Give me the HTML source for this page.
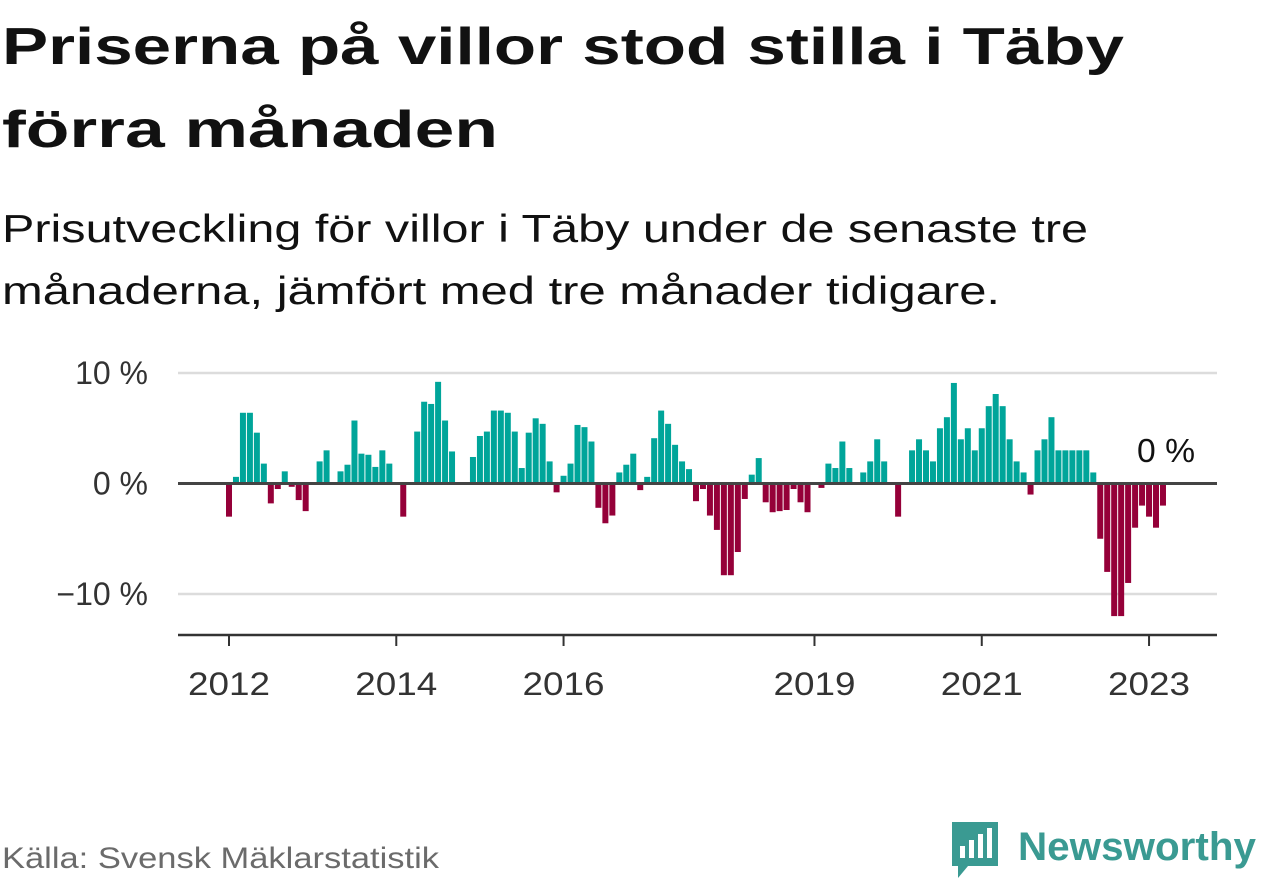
<!DOCTYPE html>
<html><head><meta charset="utf-8"><style>
html,body{margin:0;padding:0;background:#fff;width:1262px;height:879px;overflow:hidden}
svg{display:block;font-family:"Liberation Sans",sans-serif}
</style></head><body>
<svg id="chart" width="1262" height="879" viewBox="0 0 1262 879">
<text x="2" y="64" font-size="52" font-weight="bold" fill="#111" textLength="1122" lengthAdjust="spacingAndGlyphs">Priserna på villor stod stilla i Täby</text>
<text x="2" y="147" font-size="52" font-weight="bold" fill="#111" textLength="496" lengthAdjust="spacingAndGlyphs">förra månaden</text>
<text x="2" y="242" font-size="39" fill="#111" textLength="1086" lengthAdjust="spacingAndGlyphs">Prisutveckling för villor i Täby under de senaste tre</text>
<text x="2" y="304" font-size="39" fill="#111" textLength="998" lengthAdjust="spacingAndGlyphs">månaderna, jämfört med tre månader tidigare.</text>
<g id="grid"></g>
<g id="bars"></g>
<g id="axes"></g>
<text x="1137" y="462" font-size="33" fill="#111" textLength="58" lengthAdjust="spacingAndGlyphs">0 %</text>
<text x="2" y="868" font-size="30" fill="#6b6b6b" textLength="437" lengthAdjust="spacingAndGlyphs">Källa: Svensk Mäklarstatistik</text>
<g>
<path d="M952 822 h46 v44 h-30 l-10 12 v-12 h-6 z" fill="#3a9a92"/>
<rect x="960" y="846" width="5" height="12" fill="#fff"/><rect x="969" y="840" width="5" height="18" fill="#fff"/><rect x="978" y="834" width="5" height="24" fill="#fff"/><rect x="987" y="828" width="5" height="30" fill="#fff"/>
<text x="1018" y="860" font-size="40" font-weight="bold" fill="#3a9a92" textLength="238" lengthAdjust="spacingAndGlyphs">Newsworthy</text>
</g>
</svg>
<script>
const values=[-3.0,0.6,6.4,6.4,4.6,1.8,-1.8,-0.5,1.1,-0.3,-1.5,-2.5,
0,2.0,3.0,0,1.1,1.7,5.7,2.7,2.6,1.5,3.0,1.8,
0,-3.0,0,4.7,7.4,7.2,9.2,5.7,2.9,0,0,2.4,
4.3,4.7,6.6,6.6,6.4,4.7,1.4,4.6,5.9,5.4,2.0,-0.8,
0.7,1.8,5.3,5.1,3.8,-2.2,-3.6,-2.9,1.0,1.7,2.7,-0.6,
0.6,4.1,6.6,5.4,3.5,2.0,1.3,-1.6,-0.5,-2.9,-4.2,-8.3,
-8.3,-6.2,-1.4,0.8,2.3,-1.7,-2.6,-2.5,-2.4,-0.5,-1.7,-2.6,
0,-0.4,1.8,1.4,3.8,1.4,0,1.0,2.0,4.0,2.0,0,
-3.0,0,3.0,4.0,3.0,2.0,5.0,6.0,9.1,4.0,5.0,3.0,
5.0,7.0,8.1,7.0,4.0,2.0,1.0,-1.0,3.0,4.0,6.0,3.0,
3.0,3.0,3.0,3.0,1.0,-5.0,-8.0,-12.0,-12.0,-9.0,-4.0,-2.0,
-3.0,-4.0,-2.0];
const yTicks=[10,0,-10];
const yTickLabels=["10 %","0 %","\u221210 %"];
const xTickYears=[2012,2014,2016,2019,2021,2023];
const startYear=2012;
const NS="http://www.w3.org/2000/svg";
const x=i=>229+i*6.97;
const y=v=>483.5-v*11.05;
function mk(tag,attrs,parent){const e=document.createElementNS(NS,tag);for(const k in attrs)e.setAttribute(k,attrs[k]);parent.appendChild(e);return e;}
const grid=document.getElementById('grid'),bars=document.getElementById('bars'),axes=document.getElementById('axes');
yTicks.forEach((t,k)=>{
 if(t!==0){const l=mk('line',{x1:178,x2:1217,y1:y(t),y2:y(t),stroke:'#dcdcdc','stroke-width':2.5},grid);
 
 }
 const tx=mk('text',{x:148,y:y(t)+11,'font-size':32,fill:'#333','text-anchor':'end'},grid);
 tx.textContent=yTickLabels[k];
 
 
});
values.forEach((v,i)=>{
 const top=v>=0?y(v):y(0), h=Math.abs(y(v)-y(0));
 if(h===0)return;
 const r=mk('rect',{x:x(i)-3,y:top,width:6,height:h,fill:v>=0?'#00a59a':'#950039'},bars);
 
 
});
const zl=mk('line',{x1:178,x2:1217,y1:y(0),y2:y(0),stroke:'#444','stroke-width':3},axes);


const ax=mk('line',{x1:178,x2:1217,y1:635,y2:635,stroke:'#333','stroke-width':2.5},axes);


xTickYears.forEach(yr=>{
 const xi=x((yr-startYear)*12);
 const tk=mk('line',{x1:xi,x2:xi,y1:635,y2:646,stroke:'#333','stroke-width':2},axes);
 
 
 const tx=mk('text',{x:xi-41,y:695,'font-size':32,fill:'#333',textLength:82,lengthAdjust:'spacingAndGlyphs'},axes);
 tx.textContent=yr;
 
 
});
</script>
</body></html>
